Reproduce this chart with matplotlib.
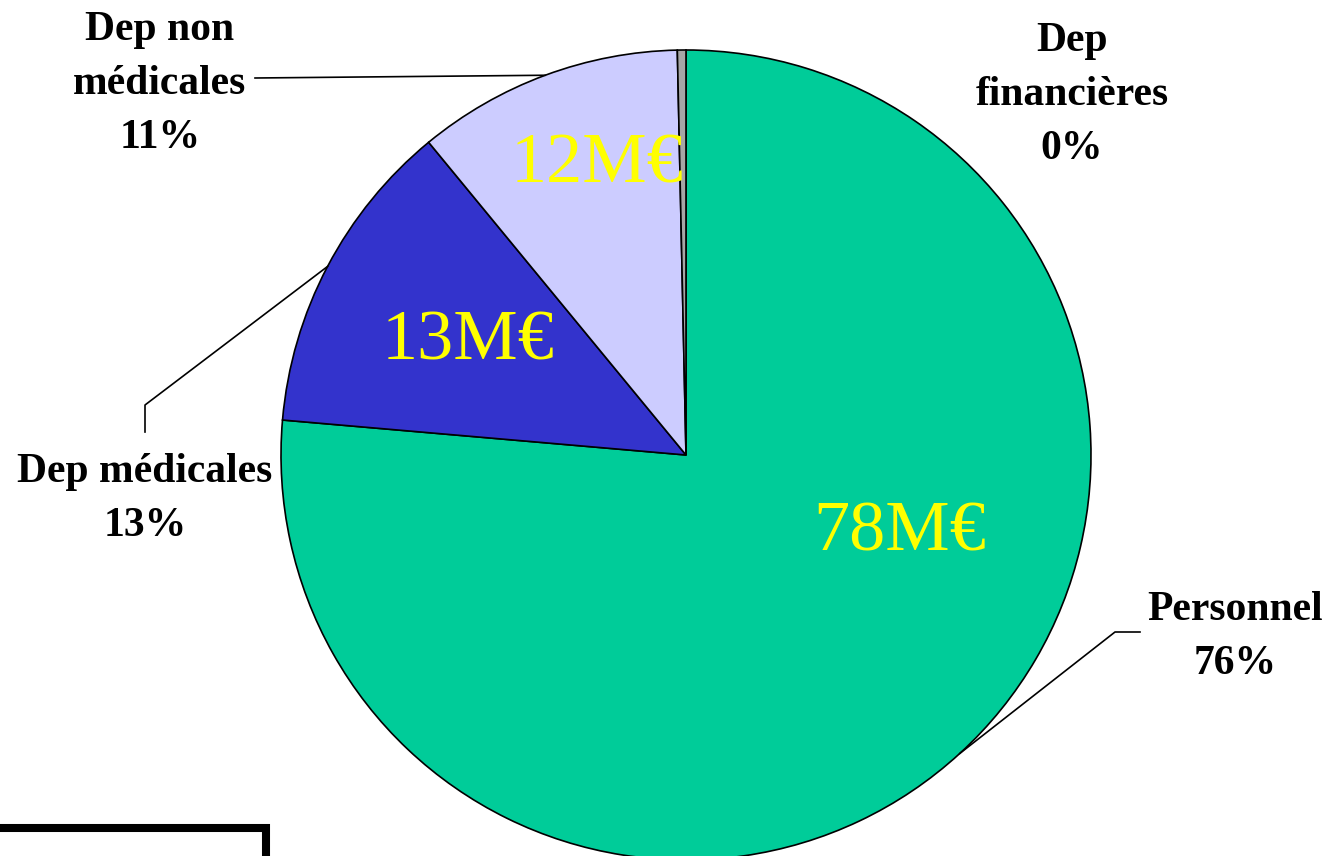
import numpy as np
import matplotlib.pyplot as plt
from matplotlib.patches import Rectangle

# data
categories = ["Personnel", "Dep médicales", "Dep non médicales", "Dep financières"]
values = [78.4, 13.0, 10.9, 0.35]
amount_labels = ["78M€", "13M€", "12M€", ""]
outer_labels = ["Personnel\n76%", "Dep médicales\n13%", "Dep non\nmédicales\n11%", "Dep\nfinancières\n0%"]
colors = ["#00CC99", "#3333CC", "#CCCCFF", "#A6A6A6"]

W, H = 1330, 856
fig = plt.figure(figsize=(W / 100, H / 100), dpi=100)
ax = fig.add_axes([0, 0, 1, 1])

cx, cy, r = 686, H - 455, 405
wedges, _ = ax.pie(values, colors=colors, startangle=90, counterclock=False,
                   center=(cx, cy), radius=r, frame=True,
                   wedgeprops=dict(edgecolor="black", linewidth=1.2))
ax.set_xlim(0, W)
ax.set_ylim(0, H)
ax.axis("off")

serif = ["Liberation Serif", "DejaVu Serif"]

# amounts inside slices
amount_pos = [(900, H - 533), (468, H - 342), (597, H - 165)]
for lab, (x, y) in zip(amount_labels, amount_pos):
    ax.text(x, y, lab, color="#FFFF00", fontsize=52, family=serif,
            ha="center", va="center")

# outside labels
label_pos = [(1235, H - 637), (145, H - 499), (160, H - 84), (1072, H - 95)]
for lab, (x, y) in zip(outer_labels, label_pos):
    ax.text(x, y, lab, fontsize=30, fontweight="bold", family=serif,
            ha="center", va="center", linespacing=1.55)

# leader lines from the wedge middle on the rim
def rim(w):
    a = np.deg2rad((w.theta1 + w.theta2) / 2)
    return cx + r * np.cos(a), cy + r * np.sin(a)

px, py = rim(wedges[0])
ax.plot([px, 1115, 1140], [py, H - 632, H - 632], color="black", lw=1.2)
px, py = rim(wedges[1])
ax.plot([px, 145, 145], [py, H - 405, H - 432], color="black", lw=1.2)
px, py = rim(wedges[2])
ax.plot([px, 255], [py, H - 78], color="black", lw=1.2)

# box bottom left
ax.add_patch(Rectangle((-20, -50), 286, H - 828 + 50, fill=False,
                       edgecolor="black", linewidth=5.8, clip_on=False))

fig.savefig("out.png", dpi=100)
